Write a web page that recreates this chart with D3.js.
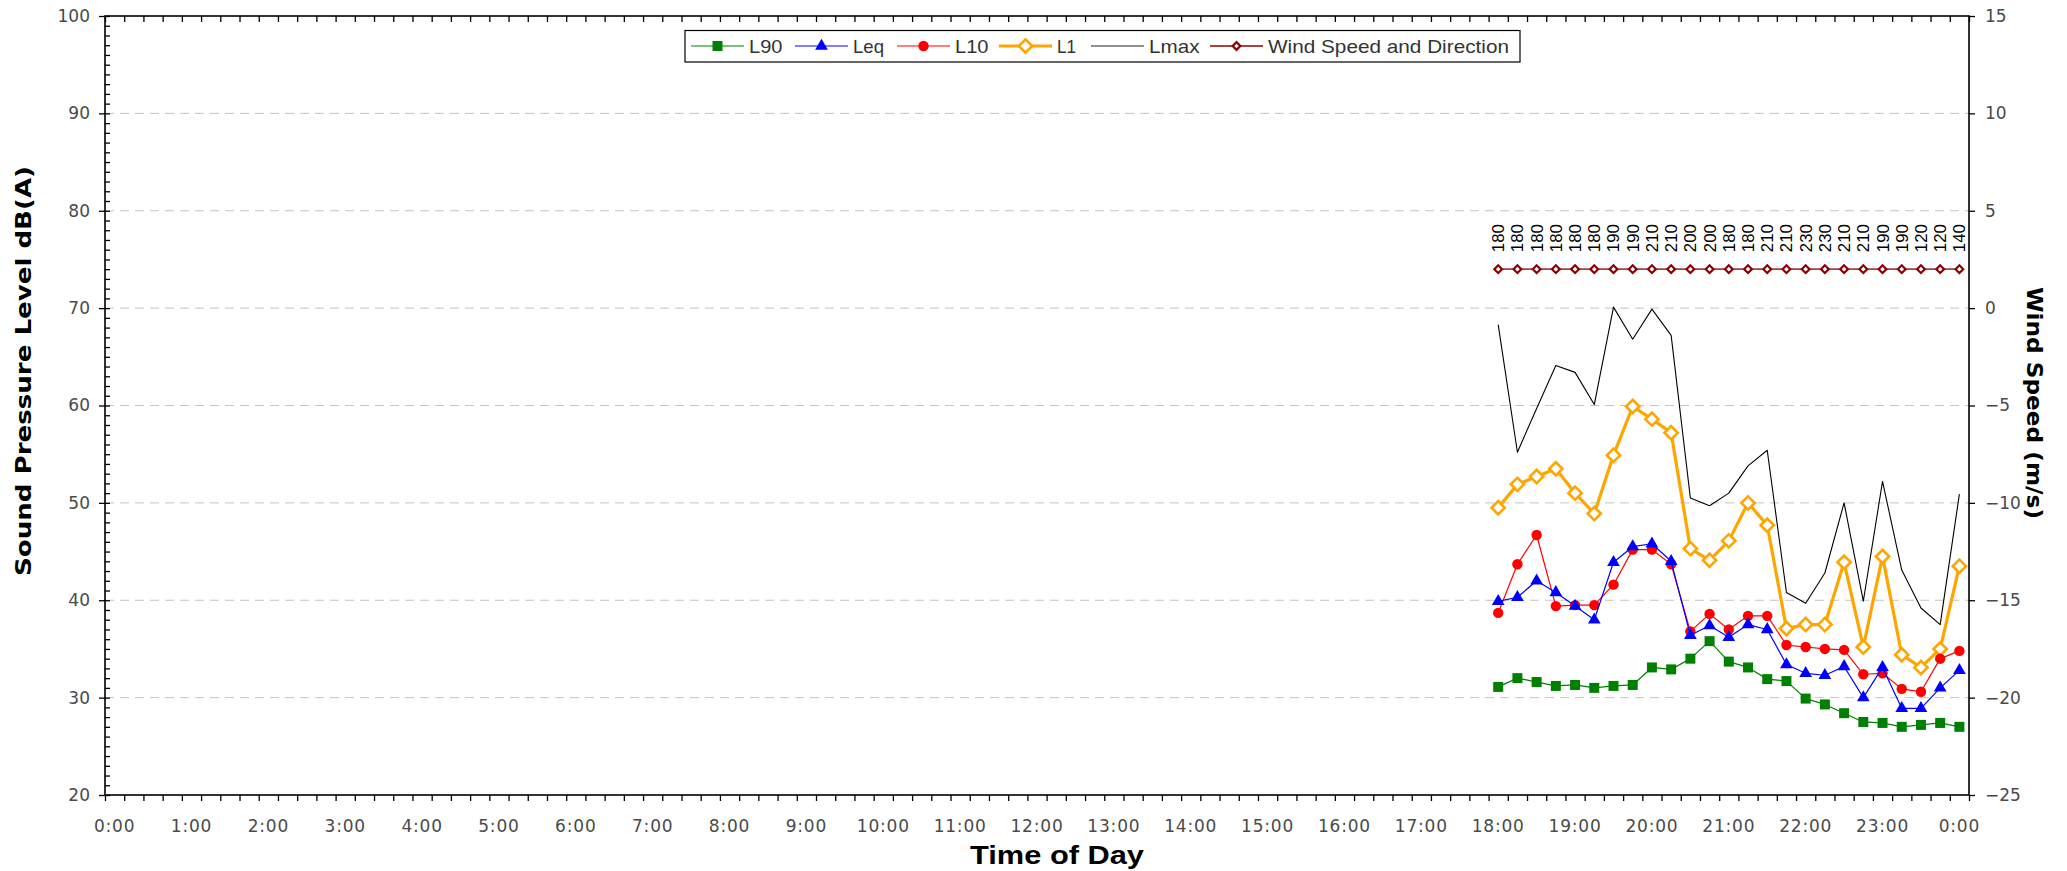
<!DOCTYPE html>
<html><head><meta charset="utf-8">
<script src="https://cdn.jsdelivr.net/npm/d3@7"></script>
<style>body{margin:0;background:#fff} svg{display:block}</style>
</head><body><svg id="chart" width="2067" height="871"></svg>
<script>
// ---------- data ----------
const sampleTimes = ["18:00","18:15","18:30","18:45","19:00","19:15","19:30","19:45","20:00","20:15","20:30","20:45",
  "21:00","21:15","21:30","21:45","22:00","22:15","22:30","22:45","23:00","23:15","23:30","23:45","24:00"];
const L90  = [31.1,32.0,31.6,31.2,31.3,31.0,31.2,31.3,33.1,32.9,34.0,35.8,33.7,33.1,31.9,31.7,29.9,29.3,28.4,27.5,27.4,27.0,27.2,27.4,27.0];
const Leq  = [39.9,40.3,42.0,40.8,39.4,38.0,43.9,45.5,45.8,44.0,36.4,37.4,36.2,37.5,37.0,33.4,32.5,32.3,33.2,30.0,33.1,28.9,28.9,31.0,32.8];
const L10  = [38.7,43.7,46.7,39.4,39.5,39.5,41.6,45.2,45.2,43.7,36.8,38.6,37.0,38.4,38.4,35.4,35.2,35.0,34.9,32.4,32.5,30.9,30.6,34.0,34.8];
const L1   = [49.5,51.9,52.7,53.5,51.0,48.9,54.9,59.9,58.6,57.2,45.3,44.1,46.1,50.0,47.7,37.1,37.5,37.5,43.9,35.2,44.5,34.4,33.1,35.0,43.5];
const Lmax = [68.3,55.2,59.7,64.1,63.4,60.1,70.1,66.8,69.9,67.2,50.5,49.7,51.0,53.8,55.4,40.8,39.7,42.8,50.0,39.9,52.2,43.1,39.2,37.5,50.9];
const windSpeed = [2,2,2,2,2,2,2,2,2,2,2,2,2,2,2,2,2,2,2,2,2,2,2,2,2];
const windDir = [180,180,180,180,180,180,190,190,210,210,200,200,180,180,210,210,230,230,210,210,190,190,120,120,140];
const leftTicks = [20,30,40,50,60,70,80,90,100];
const rightTicks = [-25,-20,-15,-10,-5,0,5,10,15];
const hourLabels = ["0:00","1:00","2:00","3:00","4:00","5:00","6:00","7:00","8:00","9:00","10:00","11:00","12:00",
  "13:00","14:00","15:00","16:00","17:00","18:00","19:00","20:00","21:00","22:00","23:00","0:00"];
const legendNames = ["L90","Leq","L10","L1","Lmax","Wind Speed and Direction"];

// ---------- layout ----------
const m = {l:105, r:1969, t:16, b:795};
const svg = d3.select("#chart");
const cats = d3.range(97).map(i => `${Math.floor(i/4)}:${String((i%4)*15).padStart(2,"0")}`);
const x = d3.scaleBand().domain(cats).range([m.l, m.r]).paddingInner(0).paddingOuter(0);
const xc = c => x(c) + x.bandwidth()/2;
const xb = d3.scaleLinear().domain([0, 97]).range([m.l, m.r]);
const yL = d3.scaleLinear().domain([20, 100]).range([m.b, m.t]);
const yR = d3.scaleLinear().domain([-25, 15]).range([m.b, m.t]);

const tickFont = "'DejaVu Sans', sans-serif";

// gridlines
svg.append("g").selectAll("line").data(leftTicks.filter(v => v > 20 && v < 100)).join("line")
  .attr("x1", m.l).attr("x2", m.r).attr("y1", d => yL(d)).attr("y2", d => yL(d))
  .attr("stroke", "#c4c4c4").attr("stroke-width", 1).attr("stroke-dasharray", "9,6");

function styleAxis(g){
  g.select(".domain").remove();
  g.selectAll(".tick line").attr("stroke", "#000").attr("stroke-width", 1.3);
  g.selectAll("text").attr("font-family", tickFont).attr("font-size", 17).attr("fill", "#4a4a4a");
}
// bottom ticks
svg.append("g").attr("transform", `translate(0,${m.b})`)
  .call(d3.axisBottom(xb).tickValues(d3.range(0, 98)).tickSize(6).tickFormat(""))
  .call(styleAxis);
// top ticks (inside)
svg.append("g").attr("transform", `translate(0,${m.t})`)
  .call(d3.axisBottom(xb).tickValues(d3.range(0, 98)).tickSize(6).tickFormat(""))
  .call(styleAxis);
// bottom labels
svg.append("g").attr("transform", `translate(0,${m.b})`)
  .call(d3.axisBottom(x).tickValues(cats.filter((c,i) => i % 4 === 0)).tickSize(0).tickPadding(25)
    .tickFormat(c => hourLabels[cats.indexOf(c)/4]))
  .call(styleAxis)
  .selectAll("text").attr("letter-spacing", "0.8px");
// left minor ticks (inside)
svg.append("g").attr("transform", `translate(${m.l},0)`)
  .call(d3.axisRight(yL).tickValues(d3.range(20, 101, 1)).tickSize(5).tickFormat(""))
  .call(styleAxis);
// left major
svg.append("g").attr("transform", `translate(${m.l},0)`)
  .call(d3.axisLeft(yL).tickValues(leftTicks).tickSize(6).tickPadding(9))
  .call(styleAxis);
// right major
svg.append("g").attr("transform", `translate(${m.r},0)`)
  .call(d3.axisRight(yR).tickValues(rightTicks).tickSize(6).tickPadding(10))
  .call(styleAxis);

// frame
svg.append("rect").attr("x", m.l).attr("y", m.t).attr("width", m.r - m.l).attr("height", m.b - m.t)
  .attr("fill", "none").attr("stroke", "#000").attr("stroke-width", 1.6);

// ---------- series ----------
const px = i => xc(sampleTimes[i]);
const lineL = d3.line().x((d,i) => px(i)).y(d => yL(d));
const lineR = d3.line().x((d,i) => px(i)).y(d => yR(d));

const plot = svg.append("g");
function series(vals, color, width, gen){
  plot.append("path").datum(vals).attr("d", gen || lineL).attr("fill", "none")
    .attr("stroke", color).attr("stroke-width", width).attr("stroke-linejoin", "round");
}
function markers(vals, sym, size, fill, stroke, sw, rot, scale){
  plot.append("g").selectAll("path").data(vals).join("path")
    .attr("d", d3.symbol().type(sym).size(size))
    .attr("transform", (d,i) => `translate(${px(i)},${(scale||yL)(d)}) rotate(${rot||0})`)
    .attr("fill", fill).attr("stroke", stroke).attr("stroke-width", sw);
}

series(Lmax, "#000", 1.1);
series(L1, "#FFA500", 3.2);
markers(L1, d3.symbolSquare, 88, "#fff", "#FFA500", 2.6, 45);
series(L10, "#FF0000", 1.2);
markers(L10, d3.symbolCircle, 85, "#FF0000", "none", 0);
series(Leq, "#0000FF", 1.2);
markers(Leq, d3.symbolTriangle, 70, "#0000FF", "none", 0);
series(L90, "#008000", 1.2);
markers(L90, d3.symbolSquare, 100, "#008000", "none", 0);
series(windSpeed, "#A84040", 1.8, lineR);
markers(windSpeed, d3.symbolSquare, 30, "#fff", "#8B0000", 2.2, 45, yR);

// wind direction labels
plot.append("g").selectAll("text").data(windDir).join("text")
  .attr("transform", (d,i) => `translate(${px(i) + 6},${yR(windSpeed[i]) - 17}) rotate(-90)`)
  .attr("font-family", "'Liberation Sans', Arial, sans-serif").attr("font-size", 17).attr("fill", "#000")
  .attr("textLength", 28).attr("lengthAdjust", "spacingAndGlyphs")
  .text(d => d);

// ---------- legend ----------
const lg = svg.append("g");
lg.append("rect").attr("x", 685).attr("y", 30.5).attr("width", 835).attr("height", 31.5)
  .attr("fill", "#fff").attr("stroke", "#000").attr("stroke-width", 1.2);
const legendX = [691, 795, 897, 999, 1091, 1210];
const legendW = [33.5, 31, 33.5, 19, 50.5, 241];
const legendStyle = [
  {c:"#008000", w:1.2, sym:d3.symbolSquare, size:100, fill:"#008000", st:"none", sw:0, rot:0},
  {c:"#0000FF", w:1.2, sym:d3.symbolTriangle, size:70, fill:"#0000FF", st:"none", sw:0, rot:0},
  {c:"#FF0000", w:1.2, sym:d3.symbolCircle, size:85, fill:"#FF0000", st:"none", sw:0, rot:0},
  {c:"#FFA500", w:3.2, sym:d3.symbolSquare, size:88, fill:"#fff", st:"#FFA500", sw:2.6, rot:45},
  {c:"#222", w:1.2, sym:null},
  {c:"#A84040", w:1.8, sym:d3.symbolSquare, size:30, fill:"#fff", st:"#8B0000", sw:2.2, rot:45}
];
legendNames.forEach((name, k) => {
  const s = legendStyle[k], x0 = legendX[k], cy = 46;
  lg.append("line").attr("x1", x0).attr("x2", x0 + 53).attr("y1", cy).attr("y2", cy)
    .attr("stroke", s.c).attr("stroke-width", s.w);
  if (s.sym) lg.append("path").attr("d", d3.symbol().type(s.sym).size(s.size))
    .attr("transform", `translate(${x0 + 26.5},${cy}) rotate(${s.rot})`)
    .attr("fill", s.fill).attr("stroke", s.st).attr("stroke-width", s.sw);
  lg.append("text").attr("x", x0 + 58).attr("y", cy + 6.5)
    .attr("font-family", "'Liberation Sans', Arial, sans-serif")
    .attr("font-size", 19).attr("fill", "#333")
    .attr("textLength", legendW[k]).attr("lengthAdjust", "spacingAndGlyphs")
    .text(name);
});

// ---------- titles ----------
svg.append("text").attr("transform", "translate(31,371) rotate(-90)").attr("text-anchor", "middle")
  .attr("font-family", "'DejaVu Sans', sans-serif").attr("font-weight", "bold").attr("font-size", 22)
  .attr("textLength", 410).attr("lengthAdjust", "spacingAndGlyphs")
  .text("Sound Pressure Level dB(A)");
svg.append("text").attr("transform", "translate(2027,403) rotate(90)").attr("text-anchor", "middle")
  .attr("font-family", "'DejaVu Sans', sans-serif").attr("font-weight", "bold").attr("font-size", 22)
  .attr("textLength", 232).attr("lengthAdjust", "spacingAndGlyphs")
  .text("Wind Speed (m/s)");
svg.append("text").attr("x", 1057).attr("y", 864).attr("text-anchor", "middle")
  .attr("font-family", "'Liberation Sans', Arial, sans-serif").attr("font-weight", "bold").attr("font-size", 25)
  .attr("textLength", 174).attr("lengthAdjust", "spacingAndGlyphs")
  .text("Time of Day");
</script></body></html>
